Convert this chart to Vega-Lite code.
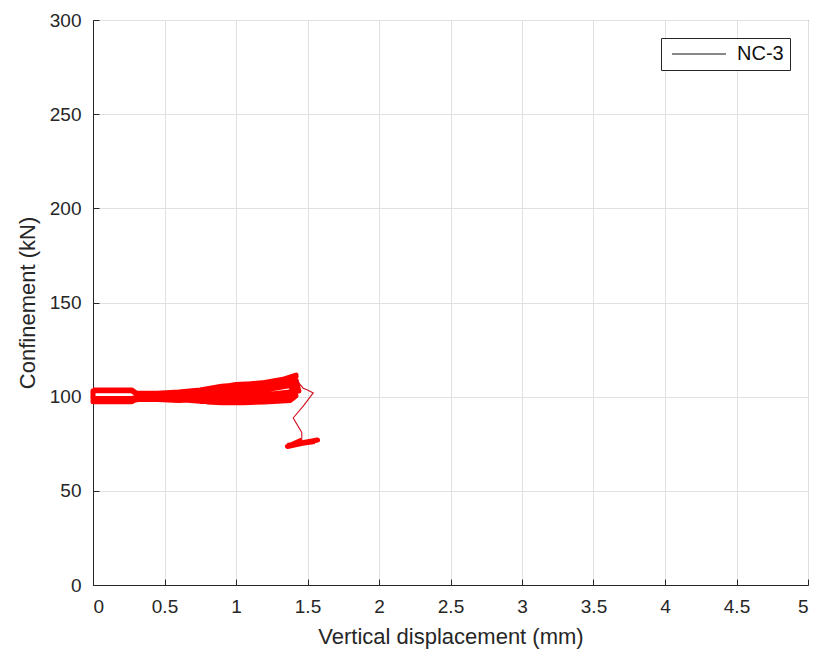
{
  "$schema": "https://vega.github.io/schema/vega-lite/v6.json",
  "width": 715,
  "height": 565,
  "autosize": {"type": "none"},
  "padding": {"left": 93, "top": 20, "right": 6, "bottom": 73},
  "background": "white",
  "config": {
    "font": "Liberation Sans",
    "view": {"stroke": "#262626", "strokeWidth": 1},
    "axis": {
      "labelFont": "Liberation Sans",
      "labelFontSize": 19,
      "labelColor": "#262626",
      "titleFont": "Liberation Sans",
      "titleFontSize": 22,
      "titleFontWeight": "normal",
      "titleColor": "#262626",
      "gridColor": "#e0e0e0",
      "gridWidth": 1,
      "domainColor": "#262626",
      "tickColor": "#262626",
      "tickSize": -6,
      "labelPadding": 18
    }
  },
  "data": {
    "values": [
      {"order": 1, "phase": "cyclic", "series": "NC-3", "d": 0.0, "f": 103.6},
      {"order": 2, "phase": "cyclic", "series": "NC-3", "d": 0.27, "f": 103.6},
      {"order": 3, "phase": "cyclic", "series": "NC-3", "d": 0.3, "f": 102.0},
      {"order": 4, "phase": "cyclic", "series": "NC-3", "d": 0.45, "f": 101.8},
      {"order": 5, "phase": "cyclic", "series": "NC-3", "d": 0.6, "f": 102.5},
      {"order": 6, "phase": "cyclic", "series": "NC-3", "d": 0.75, "f": 103.5},
      {"order": 7, "phase": "cyclic", "series": "NC-3", "d": 0.9, "f": 105.5},
      {"order": 8, "phase": "cyclic", "series": "NC-3", "d": 1.05, "f": 106.5},
      {"order": 9, "phase": "cyclic", "series": "NC-3", "d": 1.2, "f": 107.5},
      {"order": 10, "phase": "cyclic", "series": "NC-3", "d": 1.35, "f": 109.5},
      {"order": 11, "phase": "cyclic", "series": "NC-3", "d": 1.42, "f": 110.5},
      {"order": 12, "phase": "cyclic", "series": "NC-3", "d": 1.38, "f": 108.0},
      {"order": 13, "phase": "cyclic", "series": "NC-3", "d": 1.2, "f": 105.5},
      {"order": 14, "phase": "cyclic", "series": "NC-3", "d": 1.05, "f": 104.5},
      {"order": 15, "phase": "cyclic", "series": "NC-3", "d": 0.9, "f": 103.5},
      {"order": 16, "phase": "cyclic", "series": "NC-3", "d": 0.75, "f": 102.0},
      {"order": 17, "phase": "cyclic", "series": "NC-3", "d": 0.6, "f": 101.0},
      {"order": 18, "phase": "cyclic", "series": "NC-3", "d": 0.45, "f": 100.0},
      {"order": 19, "phase": "cyclic", "series": "NC-3", "d": 0.33, "f": 100.2},
      {"order": 20, "phase": "cyclic", "series": "NC-3", "d": 0.27, "f": 103.2},
      {"order": 21, "phase": "cyclic", "series": "NC-3", "d": 0.0, "f": 103.2},
      {"order": 22, "phase": "cyclic", "series": "NC-3", "d": 0.0, "f": 99.0},
      {"order": 23, "phase": "cyclic", "series": "NC-3", "d": 0.27, "f": 99.0},
      {"order": 24, "phase": "cyclic", "series": "NC-3", "d": 0.3, "f": 99.5},
      {"order": 25, "phase": "cyclic", "series": "NC-3", "d": 0.45, "f": 99.5},
      {"order": 26, "phase": "cyclic", "series": "NC-3", "d": 0.6, "f": 99.5},
      {"order": 27, "phase": "cyclic", "series": "NC-3", "d": 0.75, "f": 100.5},
      {"order": 28, "phase": "cyclic", "series": "NC-3", "d": 0.9, "f": 101.5},
      {"order": 29, "phase": "cyclic", "series": "NC-3", "d": 1.05, "f": 102.5},
      {"order": 30, "phase": "cyclic", "series": "NC-3", "d": 1.2, "f": 103.5},
      {"order": 31, "phase": "cyclic", "series": "NC-3", "d": 1.35, "f": 105.5},
      {"order": 32, "phase": "cyclic", "series": "NC-3", "d": 1.42, "f": 107.0},
      {"order": 33, "phase": "cyclic", "series": "NC-3", "d": 1.38, "f": 102.5},
      {"order": 34, "phase": "cyclic", "series": "NC-3", "d": 1.2, "f": 101.0},
      {"order": 35, "phase": "cyclic", "series": "NC-3", "d": 1.05, "f": 100.0},
      {"order": 36, "phase": "cyclic", "series": "NC-3", "d": 0.9, "f": 99.5},
      {"order": 37, "phase": "cyclic", "series": "NC-3", "d": 0.75, "f": 98.5},
      {"order": 38, "phase": "cyclic", "series": "NC-3", "d": 0.6, "f": 98.0},
      {"order": 39, "phase": "cyclic", "series": "NC-3", "d": 0.45, "f": 98.5},
      {"order": 40, "phase": "cyclic", "series": "NC-3", "d": 0.3, "f": 98.5},
      {"order": 41, "phase": "cyclic", "series": "NC-3", "d": 0.27, "f": 97.3},
      {"order": 42, "phase": "cyclic", "series": "NC-3", "d": 0.0, "f": 97.3},
      {"order": 43, "phase": "cyclic", "series": "NC-3", "d": 0.0, "f": 97.8},
      {"order": 44, "phase": "cyclic", "series": "NC-3", "d": 0.27, "f": 97.8},
      {"order": 45, "phase": "cyclic", "series": "NC-3", "d": 0.35, "f": 99.0},
      {"order": 46, "phase": "cyclic", "series": "NC-3", "d": 0.6, "f": 98.5},
      {"order": 47, "phase": "cyclic", "series": "NC-3", "d": 0.75, "f": 97.5},
      {"order": 48, "phase": "cyclic", "series": "NC-3", "d": 0.9, "f": 97.5},
      {"order": 49, "phase": "cyclic", "series": "NC-3", "d": 1.05, "f": 97.8},
      {"order": 50, "phase": "cyclic", "series": "NC-3", "d": 1.2, "f": 98.5},
      {"order": 51, "phase": "cyclic", "series": "NC-3", "d": 1.35, "f": 99.5},
      {"order": 52, "phase": "cyclic", "series": "NC-3", "d": 1.42, "f": 100.5},
      {"order": 53, "phase": "cyclic", "series": "NC-3", "d": 1.38, "f": 98.0},
      {"order": 54, "phase": "cyclic", "series": "NC-3", "d": 1.2, "f": 97.2},
      {"order": 55, "phase": "cyclic", "series": "NC-3", "d": 1.05, "f": 96.8},
      {"order": 56, "phase": "cyclic", "series": "NC-3", "d": 0.9, "f": 96.8},
      {"order": 57, "phase": "cyclic", "series": "NC-3", "d": 0.8, "f": 97.2},
      {"order": 58, "phase": "cyclic", "series": "NC-3", "d": 0.7, "f": 99.5},
      {"order": 59, "phase": "cyclic", "series": "NC-3", "d": 0.85, "f": 104.5},
      {"order": 60, "phase": "cyclic", "series": "NC-3", "d": 1.0, "f": 106.5},
      {"order": 61, "phase": "cyclic", "series": "NC-3", "d": 1.15, "f": 107.0},
      {"order": 62, "phase": "cyclic", "series": "NC-3", "d": 1.3, "f": 108.5},
      {"order": 63, "phase": "cyclic", "series": "NC-3", "d": 1.42, "f": 111.5},
      {"order": 64, "phase": "cyclic", "series": "NC-3", "d": 1.4, "f": 106.0},
      {"order": 65, "phase": "cyclic", "series": "NC-3", "d": 1.2, "f": 104.5},
      {"order": 66, "phase": "cyclic", "series": "NC-3", "d": 1.05, "f": 103.5},
      {"order": 67, "phase": "cyclic", "series": "NC-3", "d": 0.95, "f": 101.0},
      {"order": 68, "phase": "cyclic", "series": "NC-3", "d": 1.1, "f": 100.5},
      {"order": 69, "phase": "cyclic", "series": "NC-3", "d": 1.3, "f": 101.5},
      {"order": 70, "phase": "cyclic", "series": "NC-3", "d": 1.44, "f": 103.0},
      {"order": 71, "phase": "cyclic", "series": "NC-3", "d": 1.42, "f": 109.0},
      {"order": 72, "phase": "post", "series": "NC-3", "d": 1.42, "f": 109.0},
      {"order": 73, "phase": "post", "series": "NC-3", "d": 1.47, "f": 104.5},
      {"order": 74, "phase": "post", "series": "NC-3", "d": 1.5, "f": 103.5},
      {"order": 75, "phase": "post", "series": "NC-3", "d": 1.54, "f": 102.0},
      {"order": 76, "phase": "post", "series": "NC-3", "d": 1.47, "f": 95.0},
      {"order": 77, "phase": "post", "series": "NC-3", "d": 1.4, "f": 88.7},
      {"order": 78, "phase": "post", "series": "NC-3", "d": 1.46, "f": 81.0},
      {"order": 79, "phase": "post", "series": "NC-3", "d": 1.46, "f": 77.0},
      {"order": 80, "phase": "residual", "series": "NC-3", "d": 1.46, "f": 77.0},
      {"order": 81, "phase": "residual", "series": "NC-3", "d": 1.36, "f": 73.5},
      {"order": 82, "phase": "residual", "series": "NC-3", "d": 1.57, "f": 77.0},
      {"order": 83, "phase": "residual", "series": "NC-3", "d": 1.37, "f": 74.2},
      {"order": 84, "phase": "residual", "series": "NC-3", "d": 1.55, "f": 76.2}
    ]
  },
  "encoding": {
    "x": {
      "field": "d", "type": "quantitative",
      "scale": {"domain": [0, 5], "nice": false, "zero": false},
      "axis": {"values": [0, 0.5, 1, 1.5, 2, 2.5, 3, 3.5, 4, 4.5, 5], "format": "~g", "title": "Vertical displacement (mm)", "titlePadding": 10}
    },
    "y": {
      "field": "f", "type": "quantitative",
      "scale": {"domain": [0, 300], "nice": false},
      "axis": {"values": [0, 50, 100, 150, 200, 250, 300], "format": "d", "title": "Confinement (kN)", "titlePadding": 10}
    },
    "order": {"field": "order", "type": "quantitative"}
  },
  "layer": [
    {
      "transform": [{"filter": "datum.phase != 'post'"}],
      "mark": {"type": "line", "strokeWidth": 5, "strokeJoin": "round", "color": "#ff0000"},
      "encoding": {"detail": {"field": "phase", "type": "nominal"}}
    },
    {
      "transform": [{"filter": "datum.phase == 'post'"}],
      "mark": {"type": "line", "strokeWidth": 1.1, "color": "#d01020"},
      "encoding": {}
    },
    {
      "transform": [{"filter": "datum.phase == 'legend-only'"}],
      "mark": {"type": "line", "strokeWidth": 1},
      "encoding": {
        "color": {
          "field": "series", "type": "nominal",
          "scale": {"domain": ["NC-3"], "range": ["#111111"]},
          "legend": {
            "title": null,
            "orient": "top-right",
            "offset": 18,
            "fillColor": "white",
            "strokeColor": "#262626",
            "padding": 6,
            "symbolType": "M-1,0H9.8",
            "symbolSize": 100,
            "symbolStrokeWidth": 1,
            "labelFont": "Liberation Sans",
            "labelFontSize": 20,
            "labelColor": "#111111",
            "labelOffset": 50
          }
        }
      }
    }
  ]
}
